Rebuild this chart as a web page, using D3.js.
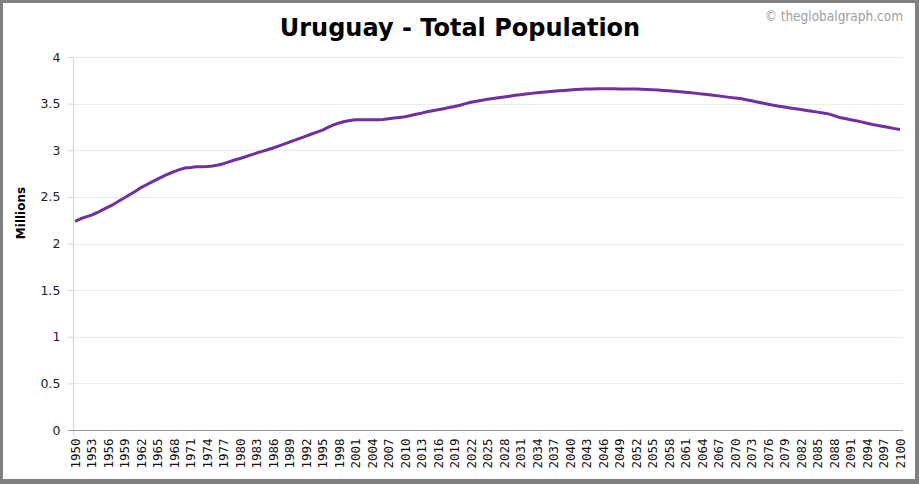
<!DOCTYPE html>
<html><head><meta charset="utf-8">
<script src="https://cdn.jsdelivr.net/npm/d3@7"></script>
<style>body{margin:0;background:#fff}svg{display:block}</style>
</head><body><svg id="c" width="919" height="484"></svg>
<script>
const startYear = 1950;
const population = [
2.238,2.265,2.285,2.305,2.330,2.360,2.390,2.420,2.455,2.490,
2.525,2.560,2.600,2.630,2.660,2.690,2.720,2.746,2.771,2.792,
2.810,2.815,2.822,2.823,2.826,2.832,2.842,2.856,2.876,2.895,
2.912,2.930,2.950,2.970,2.988,3.005,3.024,3.045,3.066,3.088,
3.108,3.130,3.152,3.174,3.195,3.215,3.245,3.272,3.292,3.308,
3.318,3.326,3.328,3.327,3.326,3.326,3.330,3.337,3.345,3.352,
3.360,3.372,3.386,3.398,3.412,3.424,3.435,3.446,3.458,3.470,
3.482,3.500,3.514,3.525,3.536,3.546,3.554,3.562,3.571,3.580,
3.589,3.596,3.603,3.610,3.616,3.622,3.628,3.633,3.638,3.642,
3.646,3.651,3.655,3.657,3.658,3.659,3.659,3.659,3.659,3.658,
3.658,3.657,3.656,3.654,3.651,3.648,3.645,3.641,3.637,3.632,
3.627,3.622,3.616,3.610,3.604,3.598,3.591,3.583,3.575,3.567,
3.560,3.554,3.542,3.530,3.518,3.506,3.494,3.482,3.472,3.463,
3.454,3.445,3.436,3.427,3.418,3.409,3.400,3.390,3.372,3.352,
3.340,3.328,3.316,3.304,3.290,3.276,3.265,3.254,3.243,3.232,
3.222];
const yTicks = [0,0.5,1,1.5,2,2.5,3,3.5,4];
const yTickLabels = ["0","0.5","1","1.5","2","2.5","3","3.5","4"];
const years = population.map((d,i)=>startYear+i);
const xTickYears = years.filter(y => (y-startYear)%3===0);
const titleText = "Uruguay - Total Population";
const yAxisTitle = "Millions";
const watermark = "© theglobalgraph.com";

const svg = d3.select("#c");
const W=919,H=484;
const L=75,R=900,T=57,B=430;
const x = d3.scaleLinear().domain([1950,2100]).range([L,R]);
const y = d3.scaleLinear().domain([0,4]).range([B,T]);

// frame
svg.append("rect").attr("x",0).attr("y",0).attr("width",W).attr("height",H).attr("fill","#808080");
svg.append("rect").attr("x",3).attr("y",3).attr("width",W-7).attr("height",H-8).attr("fill","#fff");

// gridlines
svg.append("g").selectAll("line").data(yTicks.slice(1)).join("line")
  .attr("x1",L-1).attr("x2",903).attr("y1",d=>Math.round(y(d))+0.5).attr("y2",d=>Math.round(y(d))+0.5)
  .attr("stroke","#ececec").attr("stroke-width",1);

// y axis
const yAxis = svg.append("g").attr("transform",`translate(${L-1.5},0)`)
  .call(d3.axisLeft(y).tickValues(yTicks).tickFormat((d,i)=>yTickLabels[i]).tickSize(6).tickPadding(7));
yAxis.select(".domain").attr("stroke","#d4d4d4").attr("d",`M0,${T}V${B+5}`);
yAxis.selectAll(".tick line").attr("stroke","#d4d4d4");
yAxis.selectAll("text").attr("font-family","DejaVu Sans, Verdana, sans-serif").attr("font-size","12.5px").attr("fill","#222");

// x axis
const xAxis = svg.append("g").attr("transform",`translate(0,${B+0.5})`)
  .call(d3.axisBottom(x).tickValues(xTickYears).tickFormat(d3.format("d")).tickSize(0).tickPadding(0));
xAxis.select(".domain").attr("stroke","#999").attr("d",`M68,0H903`);
xAxis.selectAll("text")
  .attr("font-family","DejaVu Sans Mono, monospace").attr("font-size","12.5px").attr("fill","#111")
  .attr("text-anchor","end").attr("dy","0.35em")
  .attr("transform","translate(0,8) rotate(-90)").attr("x",0).attr("y",0);

// line
svg.append("path").datum(population)
  .attr("fill","none").attr("stroke","#7030a0").attr("stroke-width",3).attr("stroke-linejoin","round")
  .attr("d",d3.line().x((d,i)=>x(years[i])).y(d=>y(d)));

// title
svg.append("text").attr("x",460).attr("y",36).attr("text-anchor","middle")
  .attr("font-family","DejaVu Sans, Verdana, sans-serif").attr("font-weight","bold").attr("font-size","24px")
  .attr("fill","#000").text(titleText);
// watermark
svg.append("text").attr("x",903).attr("y",21).attr("text-anchor","end")
  .attr("font-family","DejaVu Sans Condensed, DejaVu Sans, sans-serif").attr("font-size","13.5px")
  .attr("fill","#a0a0a0").text(watermark);
// y title
svg.append("text").attr("transform","translate(25,213) rotate(-90)").attr("text-anchor","middle")
  .attr("font-family","DejaVu Sans, Verdana, sans-serif").attr("font-weight","bold").attr("font-size","12px")
  .attr("fill","#000").text(yAxisTitle);
</script></body></html>
